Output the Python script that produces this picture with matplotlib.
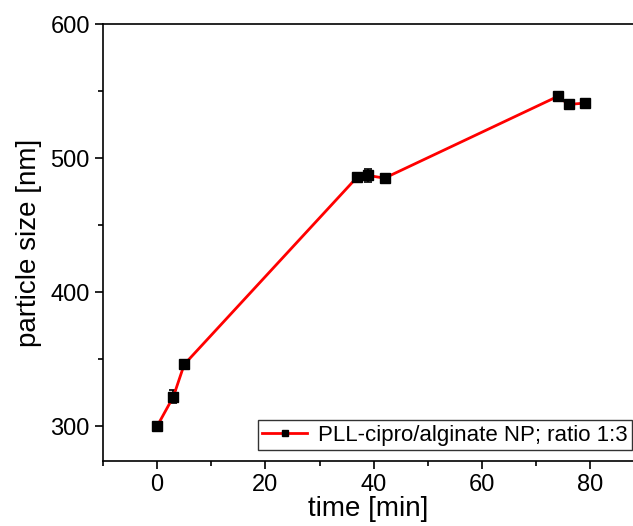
import matplotlib
matplotlib.use("Agg")
import matplotlib.pyplot as plt
from matplotlib.lines import Line2D
from matplotlib.ticker import MultipleLocator

# data
time_min = [0, 3, 5, 37, 39, 42, 74, 76, 79]
size_nm = [300, 322, 346, 486, 487, 485, 546, 540, 541]
size_err = [2, 5, 3, 2, 5, 3, 3, 2, 3]
label = "PLL-cipro/alginate NP; ratio 1:3"

plt.rcParams['font.family'] = ['Liberation Sans', 'DejaVu Sans']

fig = plt.figure(figsize=(6.33, 5.26), dpi=100)
ax = fig.add_axes([103/633, 65/526, 530/633, 437/526])

ax.errorbar(time_min, size_nm, yerr=size_err, color='red', lw=2,
            marker='s', ms=7, mfc='black', mec='black',
            ecolor='black', elinewidth=1.2, capsize=3, capthick=1.2)

ax.set_xlim(-10, 87.9)
ax.set_ylim(274, 600)
ax.xaxis.set_major_locator(MultipleLocator(20))
ax.xaxis.set_minor_locator(MultipleLocator(10))
ax.yaxis.set_major_locator(MultipleLocator(100))
ax.yaxis.set_minor_locator(MultipleLocator(50))
ax.tick_params(which='both', direction='out', width=1.2, labelsize=17,
               top=False, right=False)
ax.tick_params(which='major', length=6)
ax.tick_params(which='minor', length=3.5)
for s in ['left', 'bottom', 'top']:
    ax.spines[s].set_linewidth(1.2)
ax.spines['right'].set_visible(False)

ax.set_xlabel('time [min]', fontsize=20, labelpad=0)
ax.set_ylabel('particle size [nm]', fontsize=20, labelpad=6)

handle = Line2D([], [], color='red', lw=2, marker='s', ms=5,
                mfc='black', mec='black')
leg = ax.legend([handle], [label], loc='lower right',
                bbox_to_anchor=(0.998, 0.025),
                borderaxespad=0, fontsize=16, frameon=True, fancybox=False,
                edgecolor='black', handlelength=2.0, handletextpad=0.5,
                borderpad=0.2)
leg.get_frame().set_linewidth(1.0)

fig.savefig('out.png', dpi=100)
